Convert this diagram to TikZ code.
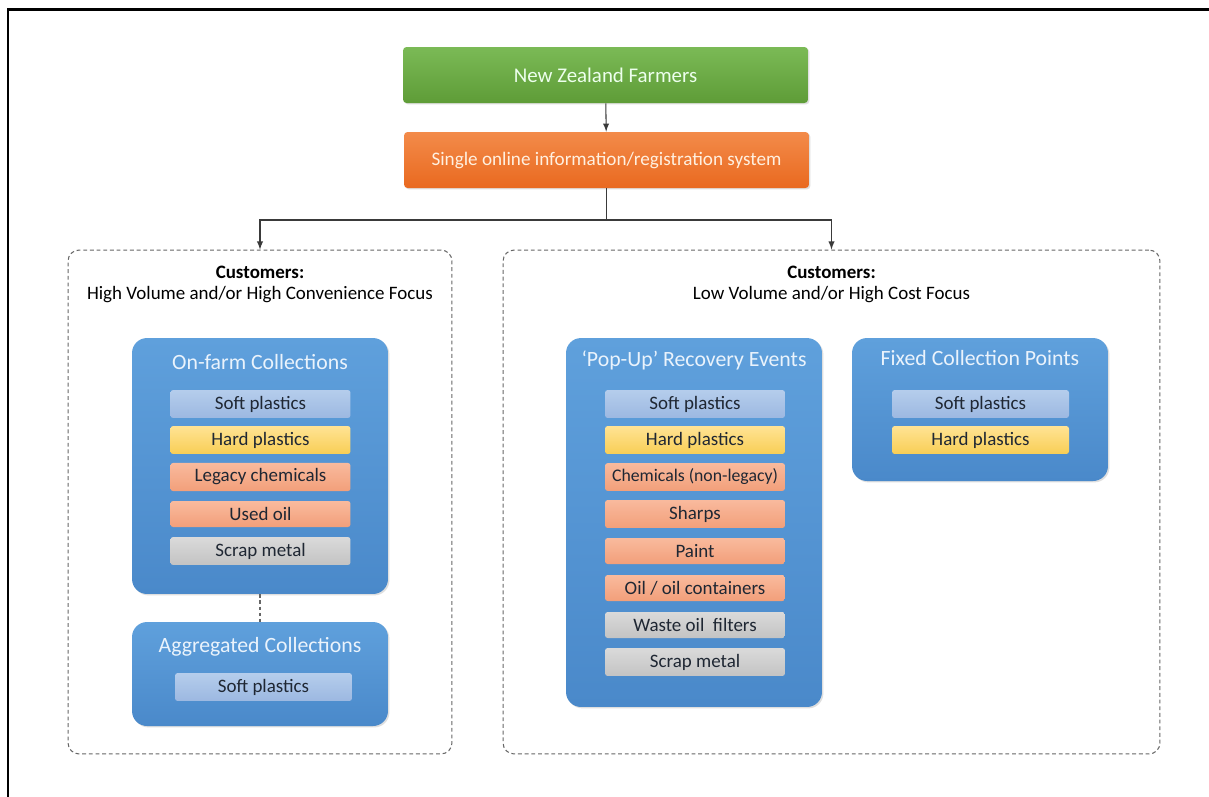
\documentclass[tikz,border=0pt]{standalone}
\usepackage{fontspec}
\setmainfont{Carlito}
\usepackage{tikz}
\usetikzlibrary{shapes, arrows, positioning, shadows}
\definecolor{greenA}{HTML}{7BBA56}
\definecolor{greenB}{HTML}{5E9C37}
\definecolor{orangeA}{HTML}{F38B4A}
\definecolor{orangeB}{HTML}{E9691F}
\definecolor{blueA}{HTML}{5FA0DC}
\definecolor{blueB}{HTML}{4A89CA}
\definecolor{softA}{HTML}{B5CDEC}
\definecolor{softB}{HTML}{9CB8E1}
\definecolor{hardA}{HTML}{FFE394}
\definecolor{hardB}{HTML}{F8CE55}
\definecolor{chemA}{HTML}{F9BA9D}
\definecolor{chemB}{HTML}{F29F7A}
\definecolor{metalA}{HTML}{DADADA}
\definecolor{metalB}{HTML}{C3C3C3}
\definecolor{itemtext}{HTML}{1F2733}
\definecolor{titlewhite}{HTML}{EAF3FC}
\definecolor{linegray}{HTML}{3A3A3A}
\definecolor{dashgray}{HTML}{666666}
\tikzstyle{topbox} = [rectangle, rounded corners=2pt, minimum width=8.1cm, minimum height=1.12cm, font=\fontsize{11.9}{14}\selectfont, drop shadow={opacity=0.25, shadow xshift=0.8pt, shadow yshift=-0.8pt}]
\tikzstyle{group} = [rectangle, draw=dashgray, line width=0.6pt, dash pattern=on 2.2pt off 1.6pt, rounded corners=0.22cm, minimum height=10.08cm]
\tikzstyle{collect} = [rectangle, rounded corners=0.3cm, top color=blueA, bottom color=blueB, minimum width=5.12cm, drop shadow={opacity=0.25, shadow xshift=0.8pt, shadow yshift=-0.8pt}]
\tikzstyle{title} = [text=titlewhite, font=\fontsize{12.4}{14}\selectfont]
\tikzstyle{cust} = [text=black, font=\fontsize{10.8}{13}\selectfont]
\tikzstyle{item} = [rectangle, rounded corners=1.5pt, minimum width=3.6cm, minimum height=0.52cm, text=itemtext, font=\fontsize{10.8}{13}\selectfont]
\tikzstyle{soft} = [item, top color=softA, bottom color=softB]
\tikzstyle{hard} = [item, top color=hardA, bottom color=hardB]
\tikzstyle{chem} = [item, top color=chemA, bottom color=chemB]
\tikzstyle{metal} = [item, top color=metalA, bottom color=metalB]
\tikzstyle{line} = [draw, linegray, line width=0.6pt]
\tikzstyle{arrow} = [line, -latex]
\begin{document}
\begin{tikzpicture}[x=0.02cm, y=-0.02cm]
			\useasboundingbox [fill=white] (0,0) rectangle (1209,796);
			\draw [line width=1.7pt] (8,830) -- (8,9) -- (1240,9);

			\node [topbox, top color=greenA, bottom color=greenB, text=white!93!green] (farmers) at (605.5,75) {New Zealand Farmers};
			\node [topbox, top color=orangeA, bottom color=orangeB, text=white!88!orange, font=\fontsize{10.9}{13}\selectfont] (system) at (606.5,160) {Single online information/registration\ system};
			\coordinate (split) at (606.5,220);

			\node [group, minimum width=7.68cm] (lgroup) at (260,502) {};
			\node [group, minimum width=13.14cm] (rgroup) at (831.5,502) {};
			\node [cust, font=\fontsize{10.8}{13}\selectfont\bfseries] (lcust) at (260,272) {Customers:};
			\node [cust] (ldesc) at (260,295) {High Volume and/or High Convenience Focus};
			\node [cust, font=\fontsize{10.8}{13}\selectfont\bfseries] (rcust) at (831.5,272) {Customers:};
			\node [cust] (rdesc) at (831.5,295) {Low Volume and/or High Cost Focus};

			\node [collect, minimum height=5.12cm] (onfarm) at (260,466) {};
			\node [title] (onfarmt) at (260,362) {On-farm Collections};
			\node [soft] (of1) at (260.5,404) {Soft plastics};
			\node [hard] (of2) at (260.5,440) {Hard plastics};
			\node [chem] (of3) at (260.5,477) {Legacy chemicals};
			\node [chem] (of4) at (260.5,514) {Used oil};
			\node [metal] (of5) at (260.5,551) {Scrap metal};

			\node [collect, minimum height=2.08cm] (aggr) at (260,674) {};
			\node [title] (aggrt) at (260,647) {Aggregated Collections};
			\node [soft, minimum width=3.54cm] (ag1) at (263.5,687) {Soft plastics};

			\node [collect, minimum height=7.38cm] (popup) at (694,522.5) {};
			\node [title] (popupt) at (694,360) {`Pop-Up' Recovery Events};
			\node [soft] (pu1) at (695,404) {Soft plastics};
			\node [hard] (pu2) at (695,440) {Hard plastics};
			\node [chem, font=\fontsize{10.1}{12}\selectfont] (pu3) at (695,477) {Chemicals (non-legacy)};
			\node [chem] (pu4) at (695,514) {Sharps};
			\node [chem] (pu5) at (695,551) {Paint};
			\node [chem] (pu6) at (695,588) {Oil / oil containers};
			\node [metal] (pu7) at (695,625) {Waste oil\ \ filters};
			\node [metal] (pu8) at (695,662) {Scrap metal};

			\node [collect, minimum height=2.86cm] (fixed) at (980,409.5) {};
			\node [title] (fixedt) at (980,358) {Fixed Collection Points};
			\node [soft, minimum width=3.54cm] (fx1) at (980.5,404) {Soft plastics};
			\node [hard, minimum width=3.54cm] (fx2) at (980.5,440) {Hard plastics};

			\path [arrow] (farmers) -- (system);
			\path [line] (system) -- (split);
			\path [arrow] (split) -| (lgroup);
			\path [arrow] (split) -| (rgroup);
			\path [line, dashgray, dash pattern=on 2pt off 1.5pt] (onfarm) -- (aggr);
		\end{tikzpicture}
\end{document}
